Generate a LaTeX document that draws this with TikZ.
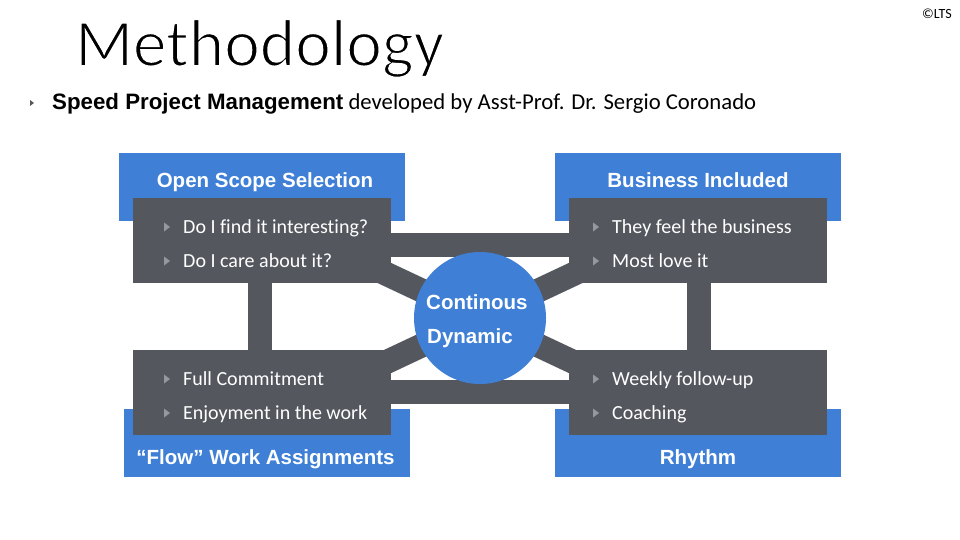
\documentclass[tikz,border=0pt]{standalone}
\usepackage{fontspec}
\setmainfont{Carlito}[Ligatures=NoCommon]
\newfontfamily\headfont{Liberation Sans}
\usetikzlibrary{calc}
\definecolor{sblue}{RGB}{63,128,214}
\definecolor{sgray}{RGB}{84,87,94}
\definecolor{bulgray}{RGB}{150,152,157}
\pgfdeclarelayer{bg}
\pgfsetlayers{bg,main}
\newcommand\itm[3]{\node[item] (#1) at (#2) {#3};
  \fill[bul] ($(#1.base west)+(-19,-10.5)$) -- ++(6,4.5) -- ++(-6,4.5) -- cycle;}
\newcommand\thintext[1]{\special{pdf:literal direct 2 Tr 1 1 1 RG 1.8 w}#1\special{pdf:literal direct 0 Tr 0 0 0 RG 0.4 w}}
\begin{document}
\begin{tikzpicture}[x=1pt,y=-1pt,
  bluebox/.style={fill=sblue, draw=none, minimum width=286pt, minimum height=68pt, inner sep=0pt},
  darkbox/.style={fill=sgray, draw=none, minimum width=258pt, minimum height=85pt, inner sep=0pt},
  bar/.style={draw=sgray, line width=24pt},
  head/.style={text=white, font=\headfont\bfseries\fontsize{20.5}{24}\selectfont, inner sep=0pt},
  item/.style={text=white, font=\fontsize{20}{24}\selectfont, anchor=base west, inner sep=0pt},
  hub/.style={circle, fill=sblue, minimum size=132pt, inner sep=0pt},
  bul/.style={fill=bulgray}
]
\useasboundingbox (0,0) rectangle (960,540);
% title area
\node[anchor=base west, inner sep=0pt, font=\fontsize{67.5}{70}\selectfont] (title) at (75,66) {\thintext{Methodology}};
\node[anchor=base east, inner sep=0pt, font=\fontsize{14}{16}\selectfont] (copy) at (952,19) {©LTS};
\node[anchor=base west, inner sep=0pt, font=\fontsize{22.7}{26}\selectfont] (sub) at (52,110)
  {{\headfont\bfseries\fontsize{22.3}{26}\selectfont Speed Project Management} developed by Asst-Prof. Dr. Sergio Coronado};
\fill[sgray] ($(sub.base west)+(-22,-10)$) -- ++(4,3) -- ++(-4,3) -- cycle;

% blue boxes
\node[bluebox] (tlB) at (262,187) {};
\node[bluebox] (trB) at (698,187) {};
\node[bluebox] (blB) at (266.5,443) {};
\node[bluebox] (brB) at (698,443) {};
\node[head, anchor=base] (tlH) at (265,187) {Open Scope Selection};
\node[head, anchor=base] (trH) at (698,187) {Business Included};
\node[head, anchor=base] (blH) at (265.5,464) {“Flow” Work Assignments};
\node[head, anchor=base] (brH) at (698,464) {Rhythm};

% dark boxes
\node[darkbox] (tlD) at (262,240.5) {};
\node[darkbox] (trD) at (698,240.5) {};
\node[darkbox] (blD) at (262,392.5) {};
\node[darkbox] (brD) at (698,392.5) {};

% hub
\node[hub] (c) at (480,318) {};
\node[head, anchor=base west] (c1) at (426,309) {Continous};
\node[head, anchor=base west] (c2) at (427,343) {Dynamic};

% items
\itm{a1}{183,233}{Do I find it interesting?}
\itm{a2}{183,267}{Do I care about it?}
\itm{b1}{612,233}{They feel the business}
\itm{b2}{612,267}{Most love it}
\itm{d1}{183,385}{Full Commitment}
\itm{d2}{183,419}{Enjoyment in the work}
\itm{e1}{612,385}{Weekly follow-up}
\itm{e2}{612,419}{Coaching}

% connectors
\coordinate (ul) at (378,270);
\coordinate (ur) at (582,270);
\coordinate (ll) at (378,366);
\coordinate (lr) at (582,366);
\begin{pgfonlayer}{bg}
\draw[bar] ($(tlD.east)+(0,4.5)$) -- ($(trD.west)+(0,4.5)$);
\draw[bar] ($(blD.east)+(0,-1)$) -- ($(brD.west)+(0,-1)$);
\draw[bar] ($(tlD.south)+(-2,0)$) -- ($(blD.north)+(-2,0)$);
\draw[bar] ($(trD.south)+(0.5,0)$) -- ($(brD.north)+(0.5,0)$);
\draw[bar] (c.center) -- (ul);
\draw[bar] (c.center) -- (ur);
\draw[bar] (c.center) -- (ll);
\draw[bar] (c.center) -- (lr);
\end{pgfonlayer}
\end{tikzpicture}
\end{document}
